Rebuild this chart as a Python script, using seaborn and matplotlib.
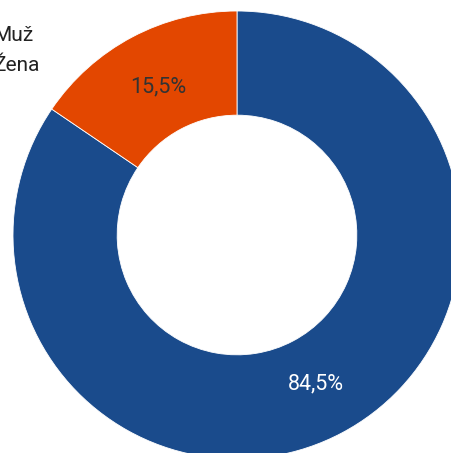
import matplotlib
matplotlib.use("Agg")
import matplotlib.pyplot as plt
import seaborn as sns
from matplotlib.patches import Patch

sns.set_theme(style="white")
plt.rcParams['font.family'] = ['Roboto', 'DejaVu Sans']

# data
labels = ["Muž", "Žena"]
values = [84.5, 15.5]
colors = ["#1a4b8c", "#e34700"]
label_colors = ["white", "#333333"]

W, H = 452, 453
fig = plt.figure(figsize=(W / 100, H / 100), dpi=100)

# donut center and radius in pixels (chart runs past the right/bottom edge)
cx, cy, r = 237, 235, 224
ax = fig.add_axes([(cx - r) / W, (H - cy - r) / H, 2 * r / W, 2 * r / H])

wedges, texts, autotexts = ax.pie(
    values,
    colors=colors,
    startangle=90,
    counterclock=False,
    autopct=lambda p: f"{p:.1f}%".replace(".", ","),
    pctdistance=0.75,
    wedgeprops=dict(width=0.465, edgecolor="white", linewidth=0.6),
    textprops=dict(fontsize=15.5),
)
for t, c in zip(autotexts, label_colors):
    t.set_color(c)

ax.set_xlim(-1, 1)
ax.set_ylim(-1, 1)
ax.set_aspect("equal")
ax.axis("off")

handles = [Patch(facecolor=c) for c in colors]
fig.legend(
    handles, labels,
    loc="upper left",
    bbox_to_anchor=(-0.088, 0.942),
    frameon=False,
    fontsize=15,
    handlelength=1.0,
    handletextpad=0.6,
    borderpad=0,
    borderaxespad=0,
    labelspacing=0.5,
    labelcolor="#222222",
)

fig.savefig("out.png", dpi=100)
